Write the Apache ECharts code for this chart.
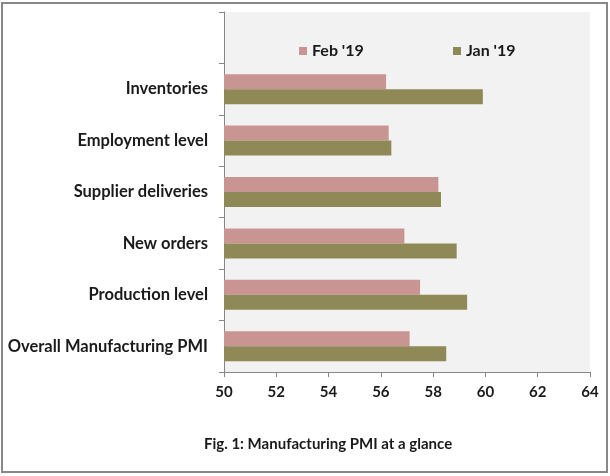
<!DOCTYPE html>
<html>
<head>
<meta charset="utf-8">
<script src="https://cdn.jsdelivr.net/npm/echarts@6/dist/echarts.min.js"></script>
<style>
  html, body { margin: 0; padding: 0; background: #fff; }
</style>
</head>
<body>
<div id="chart" style="width: 610px; height: 476px"></div>
<script>
// categories from bottom to top, the last one is the empty band behind the legend
var categories = ['Overall Manufacturing PMI', 'Production level', 'New orders',
    'Supplier deliveries', 'Employment level', 'Inventories', ''];
var feb19 = [57.1, 57.5, 56.9, 58.2, 56.3, 56.2, null];
var jan19 = [58.5, 59.3, 58.9, 58.3, 56.4, 59.9, null];
var xTicks = [50, 52, 54, 56, 58, 60, 62, 64];

var FONT = 'Lato';
var myChart = echarts.init(document.getElementById('chart'));

var option = {
    backgroundColor: '#ffffff',
    animation: false,
    textStyle: { fontFamily: FONT },
    title: {
        text: 'Fig. 1: Manufacturing PMI at a glance',
        left: 204,
        top: 437,
        padding: 0,
        textStyle: { fontFamily: FONT, fontSize: 15, fontWeight: 'bold', color: '#1a1a1a' }
    },
    legend: [
        {
            data: ["Feb '19"],
            left: 294, top: 38,
            itemWidth: 8, itemHeight: 8, icon: 'rect', itemGap: 6,
            textStyle: { fontFamily: FONT, fontSize: 16, fontWeight: 'bold', color: '#1a1a1a' }
        },
        {
            data: ["Jan '19"],
            left: 448, top: 38,
            itemWidth: 8, itemHeight: 8, icon: 'rect', itemGap: 6,
            textStyle: { fontFamily: FONT, fontSize: 16, fontWeight: 'bold', color: '#1a1a1a' }
        }
    ],
    grid: {
        left: 224, right: 20, top: 12, bottom: 104,
        show: true, backgroundColor: '#f2f2f2', borderWidth: 0,
        containLabel: false
    },
    xAxis: {
        type: 'value',
        min: xTicks[0],
        max: xTicks[xTicks.length - 1],
        interval: 2,
        splitLine: { show: false },
        axisLine: { show: true, lineStyle: { color: '#868686', width: 1 } },
        axisTick: { show: true, length: 5, lineStyle: { color: '#868686' } },
        axisLabel: { margin: 13, fontFamily: FONT, fontSize: 15, fontWeight: 'bold', color: '#1a1a1a' }
    },
    yAxis: {
        type: 'category',
        data: categories,
        axisLine: { show: true, lineStyle: { color: '#868686', width: 1 } },
        axisTick: { show: true, length: 5, lineStyle: { color: '#868686' } },
        axisLabel: { margin: 16, fontFamily: FONT, fontSize: 16.5, fontWeight: 'bold', color: '#1a1a1a' }
    },
    series: [
        {
            name: "Feb '19",
            type: 'bar',
            data: feb19,
            barWidth: 15,
            barGap: '0%',
            itemStyle: { color: '#c99592' }
        },
        {
            name: "Jan '19",
            type: 'bar',
            data: jan19,
            barWidth: 15,
            barGap: '0%',
            itemStyle: { color: '#8e8956' }
        }
    ],
    graphic: [
        {
            type: 'rect',
            shape: { x: 2, y: 3, width: 605, height: 469 },
            style: { fill: null, stroke: '#888888', lineWidth: 2 },
            silent: true
        }
    ]
};

myChart.setOption(option);
</script>
</body>
</html>
